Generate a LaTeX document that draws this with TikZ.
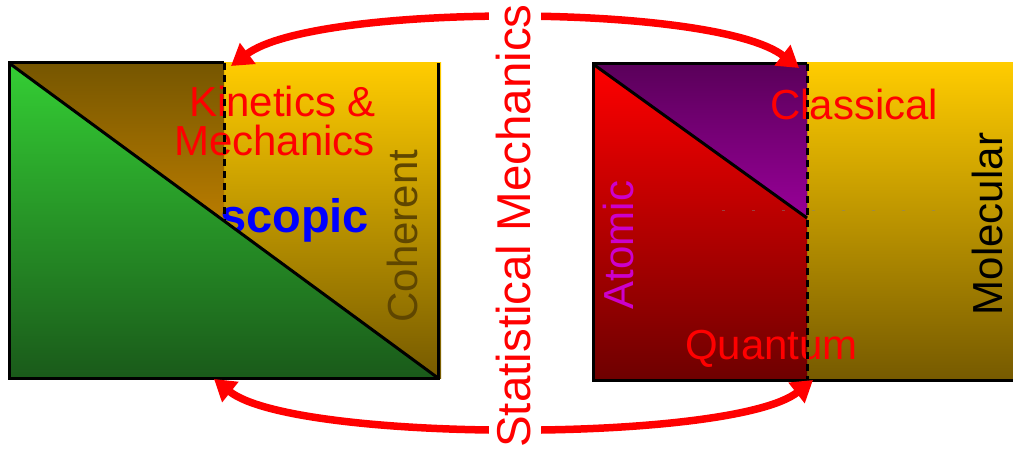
\documentclass[tikz,border=0pt]{standalone}
\usepackage{fontspec}
\setmainfont{Liberation Sans}
\usetikzlibrary{arrows.meta}
\definecolor{gold}{RGB}{255,204,0}
\definecolor{golddark}{RGB}{118,90,0}
\definecolor{browntop}{RGB}{118,86,0}
\definecolor{brownbot}{RGB}{185,124,0}
\definecolor{greentop}{RGB}{52,206,52}
\definecolor{greenbot}{RGB}{26,90,26}
\definecolor{redtop}{RGB}{255,0,0}
\definecolor{redbot}{RGB}{110,0,0}
\definecolor{purtop}{RGB}{90,0,90}
\definecolor{purbot}{RGB}{152,0,152}
\definecolor{coh}{RGB}{95,70,0}
\definecolor{atom}{RGB}{204,0,204}
\definecolor{pureblue}{RGB}{0,0,255}
\begin{document}
\begin{tikzpicture}[x=1pt,y=-1pt,
  edge/.style={line width=3pt,black},
  dashedge/.style={line width=3pt,black,dash pattern=on 7pt off 5pt},
  lbl/.style={inner sep=0pt,font=\fontsize{42}{38}\selectfont},
  arr/.style={line width=7.5pt,red,{Triangle[length=21pt,width=25pt]}-{Triangle[length=21pt,width=25pt]}}
]
\useasboundingbox (0,0) rectangle (1013,452);
% ---------- left panel ----------
\coordinate (LA) at (9,63);
\coordinate (LB) at (224,63);
\coordinate (LC) at (438,63);
\coordinate (LD) at (438,378);
\coordinate (LE) at (9,378);
\coordinate (LX) at (224,221);
\shade[top color=gold,bottom color=golddark] (224,63) rectangle (441,378);
\shade[top color=browntop,bottom color=brownbot] (LA) -- (LB) -- (LX) -- cycle;
\node[lbl,text=red,anchor=base east] (kin) at (376,117) {Kinetics \&};
\node[lbl,text=red,anchor=base east] (mech) at (375,155) {Mechanics};
\node[inner sep=0pt,anchor=base west,text=pureblue,font=\fontsize{47}{47}\selectfont\bfseries] (scop) at (220,232) {scopic};
\node[lbl,text=coh,rotate=90,anchor=base] (coh) at (417,236) {Coherent};
\shade[top color=greentop,bottom color=greenbot] (LA) -- (LD) -- (LE) -- cycle;
\draw[edge] (LB) -- (LA) -- (LE) -- (LD) -- (LC);
\draw[edge] (LA) -- (LD);
\draw[dashedge] (LB) -- (LX);
% ---------- right panel ----------
\coordinate (RA) at (593,64);
\coordinate (RB) at (807,64);
\coordinate (RX) at (807,218);
\coordinate (RC) at (807,380);
\coordinate (RE) at (593,380);
\coordinate (RF) at (1013,380);
\shade[top color=gold,bottom color=golddark] (807,63) rectangle (1013,380);
\shade[top color=redtop,bottom color=redbot] (RA) rectangle (RC);
\shade[top color=purtop,bottom color=purbot] (RA) -- (RB) -- (RX) -- cycle;
\coordinate (G1) at (722,210);
\coordinate (G2) at (935,210);
\draw[gray,opacity=0.5,line width=1pt,dash pattern=on 3pt off 27pt] (G1) -- (G2);
\node[lbl,text=red,anchor=base west] (cls) at (770,119) {Classical};
\node[lbl,text=red,anchor=base west] (qua) at (685,359) {Quantum};
\node[lbl,text=atom,rotate=90,anchor=base] (atm) at (633,245) {Atomic};
\node[lbl,text=black,rotate=90,anchor=base] (mol) at (1002,224) {Molecular};
\draw[edge] (RB) -- (RA) -- (RE) -- (RF);
\draw[edge] (RA) -- (RX);
\draw[dashedge] (RB) -- (RC);
% ---------- arrows ----------
\coordinate (TL) at (231,66);
\coordinate (TR) at (799,68);
\coordinate (BL) at (214,379);
\coordinate (BR) at (813,380);
\draw[arr] (TL) .. controls (315,3) and (715,3) .. (TR);
\draw[arr] (BL) .. controls (294,443) and (733,443) .. (BR);
\node[rotate=90,anchor=base,fill=white,text=red,inner sep=3pt,text height=38pt,text depth=8pt,font=\fontsize{47.5}{47.5}\selectfont] (stat) at (530,226) {Statistical Mechanics};
\end{tikzpicture}
\end{document}
